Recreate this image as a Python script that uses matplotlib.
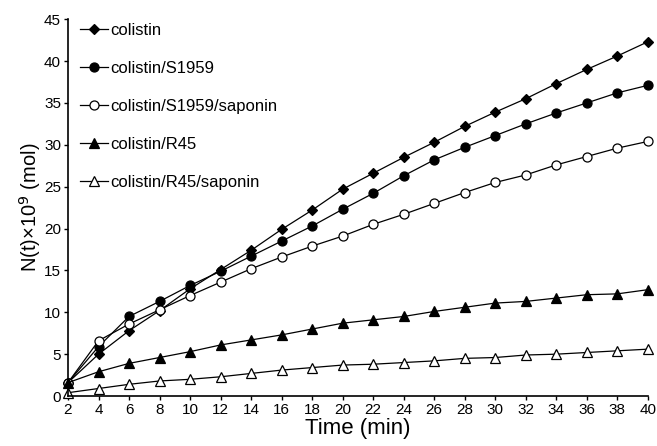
import matplotlib
matplotlib.use("Agg")
import matplotlib.pyplot as plt

plt.rcParams['font.family'] = ['Liberation Sans', 'DejaVu Sans']

time_min = [2, 4, 6, 8, 10, 12, 14, 16, 18, 20, 22, 24, 26, 28, 30, 32, 34, 36, 38, 40]

colistin = [1.6, 5.0, 7.8, 10.2, 12.8, 15.1, 17.4, 19.9, 22.2, 24.7, 26.6, 28.5, 30.3,
            32.2, 33.9, 35.5, 37.3, 39.0, 40.6, 42.3]
colistin_s1959 = [1.6, 5.9, 9.5, 11.3, 13.2, 14.9, 16.7, 18.5, 20.3, 22.3, 24.2, 26.3, 28.2,
                  29.7, 31.1, 32.5, 33.8, 35.0, 36.2, 37.1]
colistin_s1959_saponin = [1.6, 6.6, 8.6, 10.3, 12.0, 13.6, 15.2, 16.6, 17.9, 19.1, 20.5, 21.7,
                          23.0, 24.3, 25.5, 26.4, 27.6, 28.6, 29.6, 30.4]
colistin_r45 = [1.6, 2.9, 3.9, 4.6, 5.3, 6.1, 6.7, 7.3, 8.0, 8.7, 9.1, 9.5, 10.1, 10.6,
                11.1, 11.3, 11.7, 12.1, 12.2, 12.7]
colistin_r45_saponin = [0.4, 0.9, 1.4, 1.8, 2.0, 2.3, 2.7, 3.1, 3.4, 3.7, 3.8, 4.0, 4.2,
                        4.5, 4.6, 4.9, 5.0, 5.2, 5.4, 5.6]

series = [
    ("colistin", colistin, "D", "black", 5.5),
    ("colistin/S1959", colistin_s1959, "o", "black", 6.5),
    ("colistin/S1959/saponin", colistin_s1959_saponin, "o", "white", 6.5),
    ("colistin/R45", colistin_r45, "^", "black", 6.5),
    ("colistin/R45/saponin", colistin_r45_saponin, "^", "white", 6.5),
]

fig = plt.figure(figsize=(6.57, 4.46), dpi=100)
ax = fig.add_axes([0.1035, 0.112, 0.8825, 0.845])

for label, vals, marker, face, ms in series:
    ax.plot(time_min, vals, color="black", lw=0.9, marker=marker, ms=ms,
            markerfacecolor=face, markeredgecolor="black", markeredgewidth=0.9,
            label=label, clip_on=False)

ax.set_xlim(2, 40)
ax.set_ylim(0, 45)
ax.set_xticks(range(2, 41, 2))
ax.set_yticks(range(0, 46, 5))
for s in ["top", "right"]:
    ax.spines[s].set_visible(False)
for s in ["left", "bottom"]:
    ax.spines[s].set_linewidth(1.2)
ax.tick_params(direction="out", length=3, width=1, labelsize=11, pad=2)

ax.set_xlabel("Time (min)", fontsize=16, labelpad=1)
ax.set_ylabel("N(t)×10$^{9}$ (mol)", fontsize=14.5, labelpad=1)

ax.legend(loc="upper left", bbox_to_anchor=(0.005, 1.015), frameon=False, fontsize=12,
          labelspacing=1.38, handlelength=1.7, handletextpad=0.1, borderaxespad=0.15)

fig.savefig("out.png", dpi=100)
